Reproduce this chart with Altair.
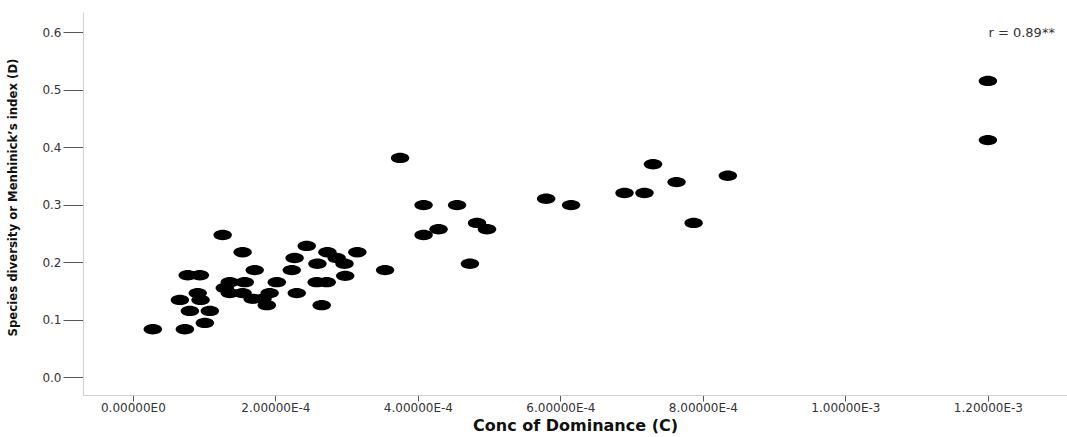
import altair as alt
import pandas as pd

# Conc of Dominance (C), units of 1e-4
conc_e4 = [0.28, 0.73, 0.66, 0.77, 0.94, 0.80, 0.91, 0.95, 1.01, 1.08,
           1.26, 1.29, 1.36, 1.36, 1.54, 1.57, 1.54, 1.68, 1.71, 1.82,
           1.88, 1.92, 2.02, 2.23, 2.27, 2.30, 2.44, 2.58, 2.72, 2.59,
           2.65, 2.73, 2.86, 2.97, 2.98, 3.15, 3.54, 3.75, 4.08, 4.55,
           5.80, 4.83, 4.97, 4.29, 4.08, 4.73, 6.15, 6.90, 7.18, 7.30,
           7.63, 8.35, 7.87, 12.0, 12.0]
# Species diversity or Menhinick's index (D)
diversity = [0.083, 0.083, 0.134, 0.177, 0.177, 0.115, 0.146, 0.134, 0.094, 0.115,
             0.247, 0.155, 0.165, 0.146, 0.217, 0.165, 0.146, 0.136, 0.186, 0.136,
             0.125, 0.146, 0.165, 0.186, 0.207, 0.146, 0.228, 0.165, 0.165, 0.197,
             0.125, 0.217, 0.207, 0.197, 0.176, 0.217, 0.186, 0.381, 0.299, 0.299,
             0.310, 0.268, 0.257, 0.257, 0.247, 0.197, 0.299, 0.320, 0.320, 0.370,
             0.339, 0.350, 0.268, 0.515, 0.412]

x_ticks = [0.0, 2e-4, 4e-4, 6e-4, 8e-4, 1e-3, 1.2e-3]
y_ticks = [0.0, 0.1, 0.2, 0.3, 0.4, 0.5, 0.6]
x_domain = [-7.0e-5, 1.311e-3]
y_domain = [-0.0313, 0.6348]

annot_text = ["r = 0.89**"]
annot_x = [1.294e-3]
annot_y = [0.598]

df = pd.DataFrame({"C": [v * 1e-4 for v in conc_e4], "D": diversity})
ann = pd.DataFrame({"x": annot_x, "y": annot_y, "t": annot_text})

ellipse = "M -1 0 A 1 0.56 0 1 0 1 0 A 1 0.56 0 1 0 -1 0 Z"

label_expr = ("datum.value == 0 ? '0.00000E0' : "
              "format(datum.value / pow(10, floor(log(datum.value) / LN10 + 1e-9)), '.5f') + 'E' + "
              "floor(log(datum.value) / LN10 + 1e-9)")

xscale = alt.Scale(domain=x_domain, nice=False, zero=False)
yscale = alt.Scale(domain=y_domain, nice=False, zero=False)

points = alt.Chart(df).mark_point(
    shape=ellipse, filled=True, color="black", opacity=1, size=340
).encode(
    x=alt.X("C:Q", scale=xscale,
            axis=alt.Axis(values=x_ticks, labelExpr=label_expr, title="Conc of Dominance (C)",
                          grid=False, tickSize=6, labelPadding=1,
                          labelFont="DejaVu Sans", labelFontSize=12, labelColor="#333333",
                          titleFont="DejaVu Sans", titleFontSize=16, titleFontWeight="bold",
                          titleColor="#111111", titlePadding=4,
                          domainColor="#d0d0d0", tickColor="#555555", labelFlush=False)),
    y=alt.Y("D:Q", scale=yscale,
            axis=alt.Axis(values=y_ticks, format=".1f",
                          title="Species diversity or Menhinick\u2019s index (D)",
                          grid=False, tickSize=20, labelPadding=2,
                          labelFont="DejaVu Sans", labelFontSize=12, labelColor="#333333",
                          titleFont="DejaVu Sans Condensed", titleFontSize=13,
                          titleFontWeight="bold",
                          titleColor="#111111", titlePadding=22, titleY=185,
                          domainColor="#d0d0d0", tickColor="#555555")),
)

text = alt.Chart(ann).mark_text(
    align="right", baseline="middle", font="DejaVu Sans", fontSize=13, color="#333333"
).encode(
    x=alt.X("x:Q", scale=xscale),
    y=alt.Y("y:Q", scale=yscale),
    text="t:N",
)

chart = alt.layer(points, text).properties(
    width=984, height=383,
    autosize=alt.AutoSizeParams(type="none"),
    padding={"left": 83, "top": 12, "right": 0, "bottom": 42},
).configure(background="white").configure_view(stroke=None)

chart.save("out.html", embed_options={"renderer": "svg", "actions": False})
